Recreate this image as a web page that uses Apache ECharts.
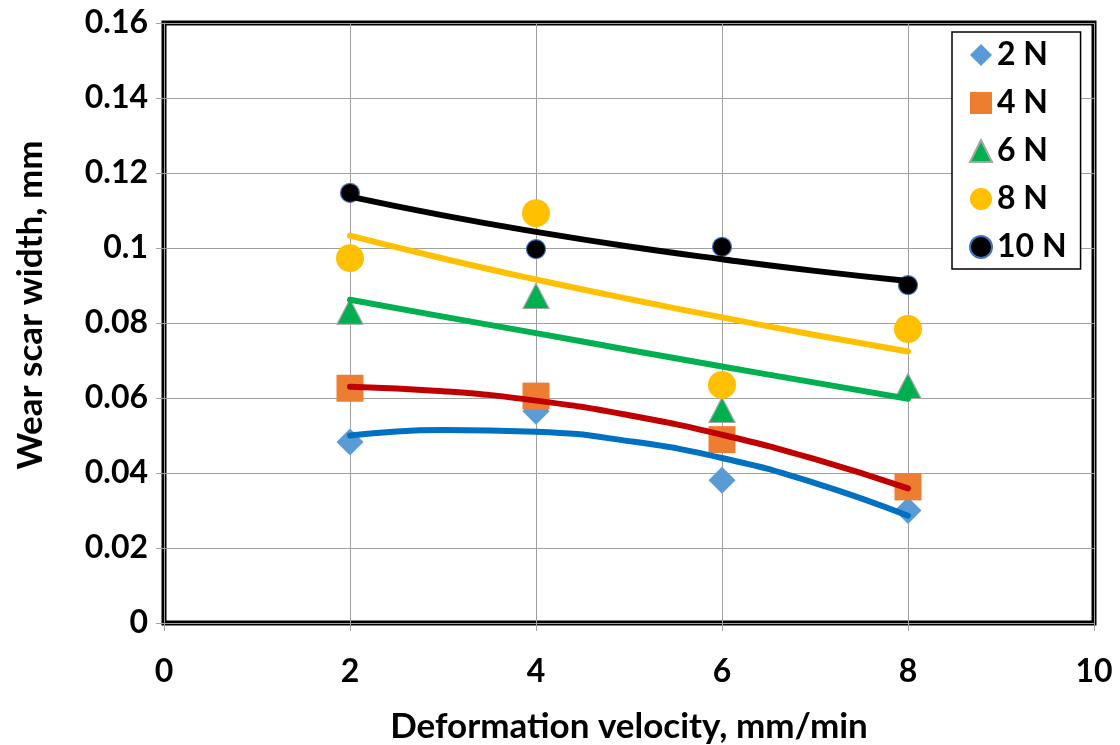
<!DOCTYPE html>
<html>
<head>
<meta charset="utf-8">
<script src="https://cdn.jsdelivr.net/npm/echarts@6/dist/echarts.min.js"></script>
<style>html,body{margin:0;padding:0;background:#fff;}#c{width:1120px;height:745px;}</style>
</head>
<body>
<div id="c"></div>
<script>
// Measured points
const velocity = [2, 4, 6, 8];
const load2N  = [0.0483, 0.0565, 0.0381, 0.0300];
const load4N  = [0.0626, 0.0605, 0.0489, 0.0363];
const load6N  = [0.0830, 0.0872, 0.0568, 0.0632];
const load8N  = [0.0973, 0.1093, 0.0635, 0.0784];
const load10N = [0.1147, 0.0997, 0.1003, 0.0901];
// Trend lines
const trendX   = [2, 3, 4, 5, 6, 7, 8];
const trend2N  = [0.0500, 0.0515, 0.0510, 0.0485, 0.0440, 0.0373, 0.0286];
const trend4N  = [0.0630, 0.0618, 0.0593, 0.0554, 0.0502, 0.0437, 0.0359];
const trend6N  = [0.0862, 0.0817, 0.0773, 0.0728, 0.0684, 0.0641, 0.0598];
const trend8N  = [0.1033, 0.0972, 0.0916, 0.0864, 0.0815, 0.0768, 0.0724];
const trend10N = [0.1137, 0.1087, 0.1043, 0.1004, 0.0970, 0.0939, 0.0912];
const seriesNames = ['2 N', '4 N', '6 N', '8 N', '10 N'];
const xTicks = [0, 2, 4, 6, 8, 10];
const yTicks = [0, 0.02, 0.04, 0.06, 0.08, 0.1, 0.12, 0.14, 0.16];

const FONT = 'Lato, "Open Sans", sans-serif';
const pairs = (xs, ys) => xs.map((x, i) => [x, ys[i]]);

const scatterDefs = [
  {name: seriesNames[0], data: load2N,  symbol: 'diamond',  size: 27, color: '#5B9BD5', border: null},
  {name: seriesNames[1], data: load4N,  symbol: 'rect',     size: 27, color: '#ED7D31', border: null},
  {name: seriesNames[2], data: load6N,  symbol: 'triangle', size: [26, 25], color: '#00B050', border: '#A5A5A5'},
  {name: seriesNames[3], data: load8N,  symbol: 'circle',   size: 28, color: '#FFC000', border: null},
  {name: seriesNames[4], data: load10N, symbol: 'circle',   size: 19, color: '#000000', border: '#4472C4'}
];
const trendDefs = [
  {data: trend2N,  color: '#0070C0'},
  {data: trend4N,  color: '#C00000'},
  {data: trend6N,  color: '#00B050'},
  {data: trend8N,  color: '#FFC000'},
  {data: trend10N, color: '#000000'}
];

const series = [];
scatterDefs.forEach(d => {
  series.push({
    name: d.name, type: 'scatter', symbol: d.symbol, symbolSize: d.size,
    data: pairs(velocity, d.data), z: 3,
    itemStyle: {color: d.color, borderColor: d.border || d.color, borderWidth: d.border ? 1.2 : 0, opacity: 1},
    emphasis: {disabled: true}
  });
});
trendDefs.forEach((d, i) => {
  series.push({
    name: 'trend' + i, type: 'line', smooth: true, showSymbol: false, symbol: 'none',
    data: pairs(trendX, d.data), z: 5,
    lineStyle: {color: d.color, width: 6, cap: 'round', join: 'round'},
    emphasis: {disabled: true}
  });
});

const chart = echarts.init(document.getElementById('c'), null, {renderer: 'canvas'});
chart.setOption({
  animation: false,
  backgroundColor: '#fff',
  grid: {left: 164, right: 26, top: 23, bottom: 122, containLabel: false, outerBoundsMode: 'none',
    show: true, borderColor: '#000', borderWidth: 5, backgroundColor: 'transparent'},
  legend: {
    data: seriesNames, orient: 'vertical', left: 952, top: 32,
    itemWidth: 22, itemHeight: 22, itemGap: 16,
    padding: [7, 14, 6, 17],
    borderColor: '#000', borderWidth: 1.5, backgroundColor: '#fff',
    textStyle: {fontFamily: FONT, fontWeight: 'bold', fontSize: 32, color: '#000'},
    selectedMode: false
  },
  xAxis: {
    type: 'value', min: 0, max: 10, interval: 2,
    name: 'Deformation velocity, mm/min', nameLocation: 'middle', nameGap: 86,
    nameTextStyle: {fontFamily: FONT, fontWeight: 'bold', fontSize: 35, color: '#000'},
    axisLine: {show: true, lineStyle: {color: '#A0A0A0', width: 1}},
    axisTick: {show: true, inside: false, length: 8, lineStyle: {color: '#A0A0A0'}},
    axisLabel: {margin: 33, fontFamily: FONT, fontWeight: 'bold', fontSize: 32, color: '#000',
      formatter: v => String(xTicks.includes(v) ? v : v)},
    splitLine: {show: true, lineStyle: {color: '#A0A0A0', width: 1}}
  },
  yAxis: {
    type: 'value', min: 0, max: 0.16, interval: 0.02,
    name: 'Wear scar width, mm', nameLocation: 'middle', nameGap: 116, nameRotate: 90,
    nameTextStyle: {fontFamily: FONT, fontWeight: 'bold', fontSize: 35, color: '#000', padding: [0, 0, 0, 36]},
    axisLine: {show: true, lineStyle: {color: '#A0A0A0', width: 1}},
    axisTick: {show: true, inside: false, length: 8, lineStyle: {color: '#A0A0A0'}},
    axisLabel: {margin: 16, fontFamily: FONT, fontWeight: 'bold', fontSize: 32, color: '#000',
      formatter: v => { const t = yTicks.find(k => Math.abs(k - v) < 1e-9); return String(Math.round((t !== undefined ? t : v) * 100) / 100); }},
    splitLine: {show: true, lineStyle: {color: '#A0A0A0', width: 1}}
  },
  series: series
});
</script>
</body>
</html>
